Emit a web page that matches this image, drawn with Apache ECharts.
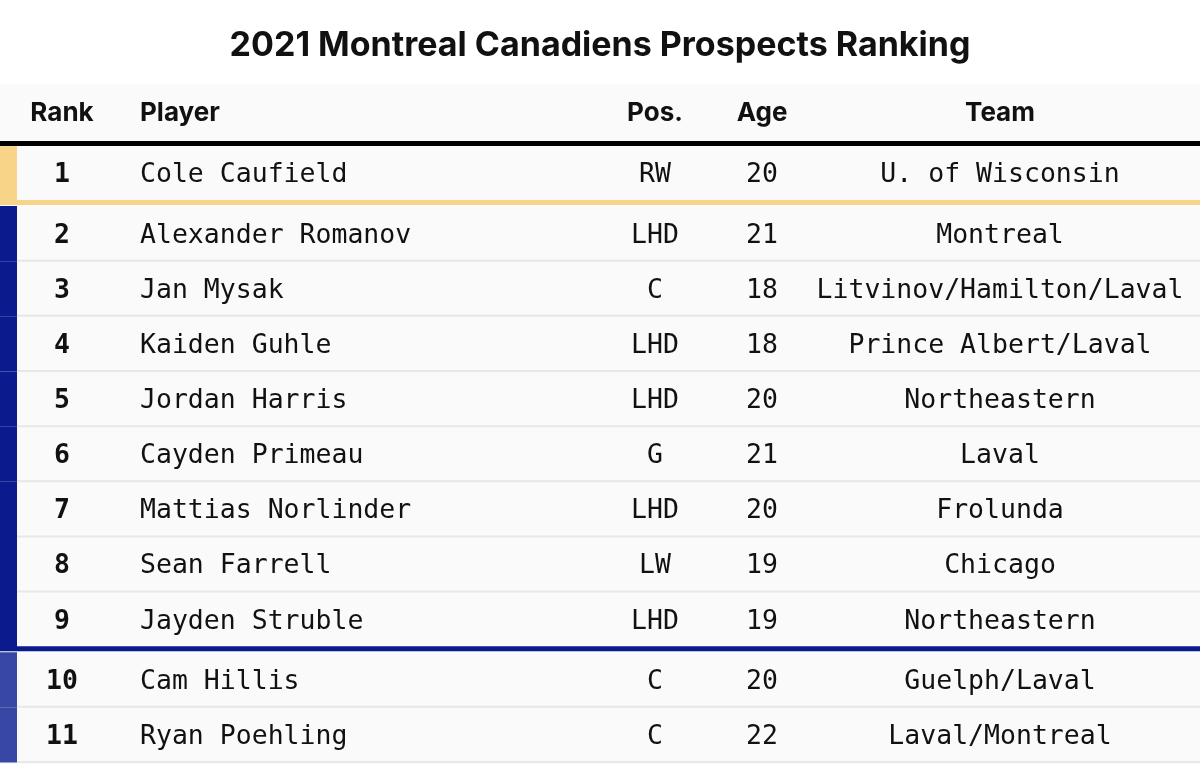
<!DOCTYPE html>
<html>
<head>
<meta charset="utf-8">
<script src="https://cdn.jsdelivr.net/npm/echarts@6/dist/echarts.min.js"></script>
<style>
html,body{margin:0;padding:0;background:#fff;}
#chart{width:1200px;height:764px;}
</style>
</head>
<body>
<div id="chart"></div>
<script>
const titleText = '2021 Montreal Canadiens Prospects Ranking';
const headers = ['Rank', 'Player', 'Pos.', 'Age', 'Team'];
const ranks = [1, 2, 3, 4, 5, 6, 7, 8, 9, 10, 11];
const players = ['Cole Caufield', 'Alexander Romanov', 'Jan Mysak', 'Kaiden Guhle', 'Jordan Harris',
  'Cayden Primeau', 'Mattias Norlinder', 'Sean Farrell', 'Jayden Struble', 'Cam Hillis', 'Ryan Poehling'];
const positions = ['RW', 'LHD', 'C', 'LHD', 'LHD', 'G', 'LHD', 'LW', 'LHD', 'C', 'C'];
const ages = [20, 21, 18, 18, 20, 21, 20, 19, 19, 20, 22];
const teams = ['U. of Wisconsin', 'Montreal', 'Litvinov/Hamilton/Laval', 'Prince Albert/Laval', 'Northeastern',
  'Laval', 'Frolunda', 'Chicago', 'Northeastern', 'Guelph/Laval', 'Laval/Montreal'];
const tiers = [0, 1, 1, 1, 1, 1, 1, 1, 1, 2, 2];

// styling / layout
const tierColors = ['#f7d488', '#0b1a8c', '#3847a3'];
const GAP = 0.09;
const colX = { rank: 62, player: 140, pos: 655, age: 762, team: 1000 };
const monoFont = '"DejaVu Sans Mono", "Liberation Mono", monospace';
const sansFont = 'Inter, "Noto Sans", sans-serif';

const chart = echarts.init(document.getElementById('chart'), null, { renderer: 'canvas' });

function rowPos(i) { return i + tiers[i] * GAP; }

const headerFont = 'bold 26px ' + sansFont;
const option = {
  backgroundColor: '#ffffff',
  animation: false,
  title: {
    text: titleText,
    left: 'center',
    top: 24,
    textStyle: { fontFamily: sansFont, fontWeight: 'bold', fontSize: 34, color: '#111' }
  },
  graphic: [
    { type: 'rect', z: -10, silent: true, shape: { x: 0, y: 84, width: 1200, height: 680 }, style: { fill: '#fafafa' } },
    { type: 'text', style: { text: headers[0], x: colX.rank, y: 113, align: 'center', verticalAlign: 'middle', font: headerFont, fill: '#111' } },
    { type: 'text', style: { text: headers[1], x: colX.player, y: 113, align: 'left', verticalAlign: 'middle', font: headerFont, fill: '#111' } },
    { type: 'text', style: { text: headers[2], x: colX.pos, y: 113, align: 'center', verticalAlign: 'middle', font: headerFont, fill: '#111' } },
    { type: 'text', style: { text: headers[3], x: colX.age, y: 113, align: 'center', verticalAlign: 'middle', font: headerFont, fill: '#111' } },
    { type: 'text', style: { text: headers[4], x: colX.team, y: 113, align: 'center', verticalAlign: 'middle', font: headerFont, fill: '#111' } }
  ],
  grid: { left: 0, right: 0, top: 141, bottom: 0, outerBoundsMode: 'none' },
  xAxis: { type: 'value', min: 0, max: 1200, show: false },
  yAxis: { type: 'value', inverse: true, min: -0.5 - GAP, max: 10.708, show: false },
  series: [{
    type: 'custom',
    clip: false,
    data: ranks.map((r, i) => [i, r]),
    renderItem: function (params, api) {
      const i = api.value(0);
      const p = rowPos(i);
      const top = api.coord([0, p - 0.5])[1];
      const bottom = api.coord([0, p + 0.5])[1];
      const mid = (top + bottom) / 2 + 2;
      const col = tierColors[tiers[i]];
      const children = [];
      if (i === 0) {
        const lt = api.coord([0, p - 0.5 - GAP])[1];
        children.push({ type: 'rect', shape: { x: 0, y: lt, width: 1200, height: top - lt }, style: { fill: '#000' } });
      }
      children.push({ type: 'rect', shape: { x: 0, y: top, width: 17, height: bottom - top }, style: { fill: col } });
      const last = i === ranks.length - 1;
      if (!last && tiers[i + 1] !== tiers[i]) {
        const lb = api.coord([0, p + 0.5 + GAP])[1];
        children.push({ type: 'rect', shape: { x: 0, y: bottom - 1, width: 1200, height: lb - bottom }, style: { fill: col } });
      } else {
        children.push({ type: 'rect', shape: { x: 17, y: bottom - 1.5, width: 1183, height: 2 }, style: { fill: '#e7e7e7' } });
      }
      const txt = (t, x, align, weight) => ({
        type: 'text',
        style: { text: String(t), x: x, y: mid, align: align, verticalAlign: 'middle',
          font: weight + ' 26.5px ' + monoFont, fill: '#111' }
      });
      children.push(txt(ranks[i], colX.rank, 'center', 'bold'));
      children.push(txt(players[i], colX.player, 'left', 'normal'));
      children.push(txt(positions[i], colX.pos, 'center', 'normal'));
      children.push(txt(ages[i], colX.age, 'center', 'normal'));
      children.push(txt(teams[i], colX.team, 'center', 'normal'));
      return { type: 'group', children: children };
    }
  }]
};
chart.setOption(option);
</script>
</body>
</html>
